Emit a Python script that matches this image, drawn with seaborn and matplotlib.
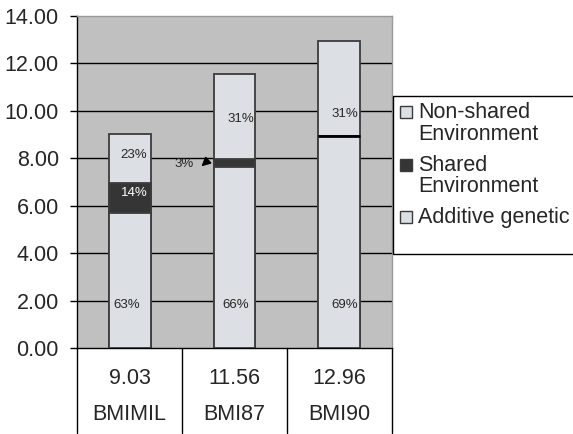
import matplotlib
matplotlib.use("Agg")
import matplotlib.pyplot as plt
from matplotlib.patches import Rectangle
import seaborn as sns

# Data
categories = ["BMIMIL", "BMI87", "BMI90"]
totals = [9.03, 11.56, 12.96]
additive_pct = [63, 66, 69]
shared_pct = [14, 3, 0]
nonshared_pct = [23, 31, 31]

light = "#dcdfe3"
dark = "#353535"
edge = "#3c3c3c"

sns.set_theme(style="white")
plt.rcParams["font.family"] = ["Liberation Sans", "DejaVu Sans"]

W, H = 573, 434
fig = plt.figure(figsize=(W / 100, H / 100), dpi=100)
ax = fig.add_axes([77 / W, 1 - 348 / H, (392 - 77) / W, (348 - 16) / H])
ax.set_facecolor("#c0c0c0")

additive = [t * a / 100 for t, a in zip(totals, additive_pct)]
add_shared = [t * (a + s) / 100 for t, a, s in zip(totals, additive_pct, shared_pct)]

# stacked bars drawn as overlapping cumulative bars
bar_kw = dict(width=0.4, saturation=1, edgecolor=edge, linewidth=1.3, ax=ax, zorder=3)
sns.barplot(x=categories, y=totals, color=light, **bar_kw)
sns.barplot(x=categories, y=add_shared, color=dark, **bar_kw)
sns.barplot(x=categories, y=additive, color=light, **bar_kw)
# thicker line where shared part is ~0
ax.hlines(add_shared[2], 2 - 0.2, 2 + 0.2, color="black", lw=2, zorder=4)

ax.set_ylim(0, 14)
ax.set_xlim(-0.5, 2.5)
ax.set_yticks(range(0, 15, 2))
ax.set_yticklabels([f"{v:.2f}" for v in range(0, 15, 2)], fontsize=15.5)
for v in range(2, 13, 2):
    ax.axhline(v, color="black", lw=1, zorder=1)
ax.tick_params(axis="y", direction="out", length=5, width=1, color="black", pad=8, left=True)
ax.tick_params(axis="x", bottom=False, labelbottom=False)
ax.set_xlabel("")
ax.set_ylabel("")
for s in ["top", "right"]:
    ax.spines[s].set_color("#999999")
    ax.spines[s].set_linewidth(1)
for s in ["left", "bottom"]:
    ax.spines[s].set_color("black")
    ax.spines[s].set_linewidth(1)

# percentage labels
add_lab_x = [-0.03, 0.01, 0.05]
add_lab_y = [1.8, 1.8, 1.8]
non_lab_x = [0.04, 0.06, 0.05]
non_lab_y = [8.14, 9.66, 9.87]
for i in range(3):
    ax.text(i + add_lab_x[i], add_lab_y[i], f"{additive_pct[i]}%", ha="center", va="center", fontsize=9.5, zorder=5)
    ax.text(i + non_lab_x[i], non_lab_y[i], f"{nonshared_pct[i]}%", ha="center", va="center", fontsize=9.5, zorder=5)
ax.text(0.05, 6.54, f"{shared_pct[0]}%", ha="center", va="center", fontsize=9.5, color="white", zorder=5)
ax.text(0.52, 7.77, f"{shared_pct[1]}%", ha="center", va="center", fontsize=9.5, zorder=5)
ax.annotate("", xy=(0.665, 7.58), xytext=(0.75, 7.92),
            arrowprops=dict(arrowstyle="-|>", color="black", lw=1.2, mutation_scale=13), zorder=5)

# data table below the axis
tr = ax.get_xaxis_transform()
for xv in [-0.5, 0.5, 1.5, 2.5]:
    ax.plot([xv, xv], [0, -0.255], transform=tr, color="black", lw=1, clip_on=False)
for i, c in enumerate(categories):
    ax.text(i, -0.093, f"{totals[i]:.2f}", transform=tr, ha="center", va="center", fontsize=15.5)
    ax.text(i, -0.199, c, transform=tr, ha="center", va="center", fontsize=15.5)

# legend drawn by hand, Excel-like box
fig.patches.append(Rectangle((393 / W, 1 - 254 / H), (W + 10 - 393) / W, (254 - 96) / H,
                             transform=fig.transFigure, facecolor="white", edgecolor="black",
                             lw=1, zorder=2))
legend_items = [("Non-shared", light), ("Environment", None), ("Shared", dark),
                ("Environment", None), ("Additive genetic", light)]
legend_y = [112, 135, 165, 187, 217]
for (txt, col), yp in zip(legend_items, legend_y):
    if col is not None:
        fig.patches.append(Rectangle((400 / W, 1 - (yp + 6) / H), 12 / W, 12 / H,
                                     transform=fig.transFigure, facecolor=col,
                                     edgecolor=edge, lw=1, zorder=3))
    fig.text(418 / W, 1 - yp / H, txt, ha="left", va="center", fontsize=15.5, zorder=4)

fig.savefig("out.png", dpi=100)
